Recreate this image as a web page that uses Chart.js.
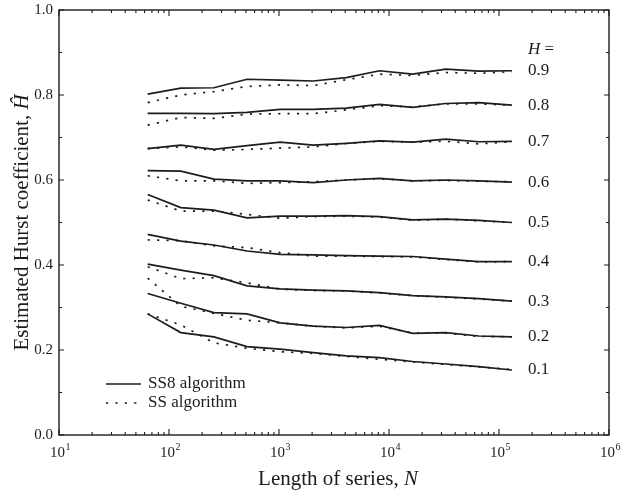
<!DOCTYPE html>
<html><head><meta charset="utf-8">
<script src="https://cdn.jsdelivr.net/npm/chart.js@4.4.1/dist/chart.umd.min.js"></script>
<style>html,body{margin:0;padding:0;background:#fff}canvas{display:block}</style>
</head><body>
<canvas id="c" width="624" height="493" style="width:624px;height:493px"></canvas>
<script>
// Length of series N (powers of two, 2^6 .. 2^17)
const seriesLengths = [64,128,256,512,1024,2048,4096,8192,16384,32768,65536,131072];
// True Hurst coefficients (annotation labels at right)
const hurstLabels = ['0.9','0.8','0.7','0.6','0.5','0.4','0.3','0.2','0.1'];
const legendLabels = ['SS8 algorithm','SS algorithm'];
const yTickValues = [0.0,0.2,0.4,0.6,0.8,1.0];
const xTickExponents = [1,2,3,4,5,6];

// SS8 algorithm (solid)
const ss8_H09 = [0.802,0.816,0.817,0.837,0.835,0.833,0.841,0.857,0.849,0.861,0.856,0.857];
const ss8_H08 = [0.757,0.757,0.756,0.759,0.766,0.766,0.769,0.778,0.771,0.780,0.782,0.776];
const ss8_H07 = [0.674,0.682,0.672,0.681,0.689,0.682,0.686,0.692,0.689,0.696,0.690,0.691];
const ss8_H06 = [0.622,0.621,0.602,0.598,0.598,0.594,0.600,0.604,0.598,0.600,0.598,0.595];
const ss8_H05 = [0.566,0.535,0.529,0.511,0.515,0.515,0.516,0.514,0.506,0.508,0.505,0.500];
const ss8_H04 = [0.472,0.456,0.447,0.433,0.425,0.424,0.422,0.421,0.420,0.414,0.408,0.408];
const ss8_H03 = [0.402,0.388,0.375,0.351,0.344,0.341,0.339,0.335,0.328,0.325,0.321,0.315];
const ss8_H02 = [0.333,0.310,0.288,0.285,0.264,0.256,0.253,0.258,0.239,0.241,0.233,0.231];
const ss8_H01 = [0.285,0.241,0.231,0.208,0.202,0.194,0.186,0.182,0.173,0.167,0.161,0.153];

// SS algorithm (dotted)
const ss_H09 = [0.782,0.800,0.808,0.820,0.824,0.822,0.836,0.849,0.846,0.853,0.851,0.855];
const ss_H08 = [0.729,0.747,0.745,0.755,0.756,0.756,0.765,0.775,0.772,0.779,0.779,0.776];
const ss_H07 = [0.674,0.678,0.670,0.672,0.675,0.678,0.686,0.691,0.689,0.691,0.685,0.690];
const ss_H06 = [0.610,0.598,0.598,0.592,0.594,0.596,0.600,0.603,0.598,0.599,0.597,0.596];
const ss_H05 = [0.553,0.527,0.527,0.519,0.510,0.514,0.515,0.513,0.505,0.508,0.504,0.500];
const ss_H04 = [0.459,0.457,0.445,0.441,0.429,0.421,0.421,0.420,0.419,0.413,0.407,0.408];
const ss_H03 = [0.396,0.368,0.370,0.358,0.343,0.340,0.339,0.334,0.328,0.324,0.320,0.315];
const ss_H02 = [0.369,0.303,0.286,0.270,0.264,0.256,0.252,0.256,0.240,0.240,0.232,0.231];
const ss_H01 = [0.285,0.259,0.217,0.204,0.196,0.192,0.185,0.178,0.172,0.166,0.160,0.154];

const ss8Series = [ss8_H09,ss8_H08,ss8_H07,ss8_H06,ss8_H05,ss8_H04,ss8_H03,ss8_H02,ss8_H01];
const ssSeries  = [ss_H09,ss_H08,ss_H07,ss_H06,ss_H05,ss_H04,ss_H03,ss_H02,ss_H01];

const INK = '#1c1c1c';
const SERIF = '"Liberation Serif","DejaVu Serif",serif';
const DOT = [2.2, 7.2];

const toPts = arr => arr.map((v,i)=>({x: seriesLengths[i], y: v}));
const datasets = [];
ss8Series.forEach((s,i)=>datasets.push({label:'SS8 H='+hurstLabels[i], data:toPts(s), borderColor:INK, borderWidth:1.7, pointRadius:0, fill:false, tension:0}));
ssSeries.forEach((s,i)=>datasets.push({label:'SS H='+hurstLabels[i], data:toPts(s), borderColor:INK, borderWidth:1.7, borderDash:DOT, pointRadius:0, fill:false, tension:0}));

const decor = {
  id:'decor',
  afterDraw(chart){
    const {ctx, chartArea:a, scales:{x, y}} = chart;
    ctx.save();
    ctx.strokeStyle = INK; ctx.fillStyle = INK;
    // frame
    ctx.lineWidth = 1.4;
    ctx.strokeRect(a.left, a.top, a.right-a.left, a.bottom-a.top);
    // y ticks inward (left and right)
    ctx.lineWidth = 1.1;
    ctx.beginPath();
    for (let k=0;k<=10;k++){
      const v = k/10, py = y.getPixelForValue(v), L = (k%2===0)?5:3;
      ctx.moveTo(a.left, py); ctx.lineTo(a.left+L, py);
      ctx.moveTo(a.right, py); ctx.lineTo(a.right-L, py);
    }
    // x log ticks inward (top and bottom)
    const eMin = xTickExponents[0], eMax = xTickExponents[xTickExponents.length-1];
    for (let d=eMin; d<=eMax; d++){
      for (let m=1;m<=9;m++){
        if (d===eMax && m>1) break;
        const px = x.getPixelForValue(m*Math.pow(10,d)), L = (m===1)?6:3;
        ctx.moveTo(px, a.bottom); ctx.lineTo(px, a.bottom-L);
        ctx.moveTo(px, a.top); ctx.lineTo(px, a.top+L);
      }
    }
    ctx.stroke();

    // x tick labels 10^n with real superscripts
    ctx.textBaseline = 'alphabetic'; ctx.textAlign = 'left';
    xTickExponents.forEach(e=>{
      const px = x.getPixelForValue(Math.pow(10,e));
      ctx.font = '15px '+SERIF; const bw = ctx.measureText('10').width;
      ctx.font = '10px '+SERIF; const ew = ctx.measureText(String(e)).width;
      const sx = px - (bw+ew)/2 + 1;
      ctx.font = '15px '+SERIF; ctx.fillText('10', sx, a.bottom+22);
      ctx.font = '10px '+SERIF; ctx.fillText(String(e), sx+bw+0.5, a.bottom+15);
    });

    // right-hand annotations
    ctx.textBaseline = 'middle'; ctx.textAlign = 'left';
    const lx = 528;
    ss8Series.forEach((s,i)=>{
      ctx.font = '17px '+SERIF;
      ctx.fillText(hurstLabels[i], lx, y.getPixelForValue(s[s.length-1]));
    });
    const hy = y.getPixelForValue(ss8Series[0][ss8Series[0].length-1]) - 21;
    ctx.font = 'italic 17px '+SERIF;
    ctx.fillText('H', lx, hy);
    const hw = ctx.measureText('H').width;
    ctx.font = '17px '+SERIF;
    ctx.fillText(' =', lx+hw, hy);

    // legend
    const legY = [384, 403];
    ctx.lineWidth = 1.7;
    legendLabels.forEach((t,i)=>{
      ctx.beginPath();
      ctx.setLineDash(i===0?[]:DOT);
      ctx.moveTo(106, legY[i]); ctx.lineTo(141, legY[i]);
      ctx.stroke();
      ctx.setLineDash([]);
      ctx.font = '17px '+SERIF;
      ctx.fillText(t, 148, legY[i]);
    });

    // x axis title
    ctx.textBaseline = 'alphabetic';
    const xt1 = 'Length of series, ', xt2 = 'N';
    ctx.font = '21px '+SERIF; const w1 = ctx.measureText(xt1).width;
    ctx.font = 'italic 21px '+SERIF; const w2 = ctx.measureText(xt2).width;
    const cx = (a.left+a.right)/2 + 4, sx = cx - (w1+w2)/2;
    ctx.font = '21px '+SERIF; ctx.fillText(xt1, sx, 485);
    ctx.font = 'italic 21px '+SERIF; ctx.fillText(xt2, sx+w1, 485);

    // y axis title
    ctx.save();
    ctx.translate(28, (a.top+a.bottom)/2);
    ctx.rotate(-Math.PI/2);
    const yt1 = 'Estimated Hurst coefficient, ', yt2 = '\u0124';
    ctx.font = '21px '+SERIF; const v1 = ctx.measureText(yt1).width;
    ctx.font = 'italic 21px '+SERIF; const v2 = ctx.measureText(yt2).width;
    const sy = -(v1+v2)/2;
    ctx.font = '21px '+SERIF; ctx.fillText(yt1, sy, 0);
    ctx.font = 'italic 21px '+SERIF; ctx.fillText(yt2, sy+v1, 0);
    ctx.restore();

    ctx.restore();
  }
};

new Chart(document.getElementById('c'), {
  type:'line',
  data:{datasets},
  options:{
    responsive:false, animation:false, devicePixelRatio:1,
    layout:{padding:{left:0,right:15,top:10,bottom:0}},
    plugins:{legend:{display:false}, tooltip:{enabled:false}},
    elements:{line:{borderCapStyle:'butt'}},
    scales:{
      x:{
        type:'logarithmic', min:10, max:1e6,
        grid:{display:false, drawTicks:false}, border:{display:false},
        ticks:{display:false},
        afterFit:(s)=>{ s.height = 58; s.paddingLeft = 0; s.paddingRight = 0; }
      },
      y:{
        type:'linear', min:0, max:1,
        grid:{display:false, drawTicks:false}, border:{display:false},
        afterBuildTicks:(s)=>{ s.ticks = yTickValues.map(v=>({value:v})); },
        ticks:{
          padding:6, color:INK, font:{family:SERIF, size:15},
          callback:(v)=>Number(v).toFixed(1)
        },
        afterFit:(s)=>{ s.width = 59; s.paddingTop = 0; s.paddingBottom = 0; }
      }
    }
  },
  plugins:[decor]
});
</script>
</body></html>
